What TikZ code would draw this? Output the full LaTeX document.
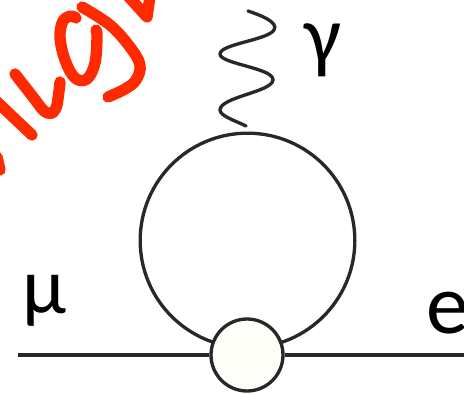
\documentclass[tikz,border=0pt]{standalone}
\usepackage{fontspec}
\setmainfont{Carlito}
\definecolor{inkred}{RGB}{255,42,0}
\definecolor{inkdark}{RGB}{40,40,40}
\definecolor{blobfill}{RGB}{254,254,248}
\pgfdeclarelayer{under}
\pgfsetlayers{under,main}
\tikzset{
  x=0.75pt,y=-0.75pt,
  redstroke/.style={draw=inkred,line width=8.5pt,line cap=round,line join=round},
  fermion/.style={draw=inkdark,line width=2.5pt},
  wave/.style={draw=inkdark,line width=2.5pt,line cap=round},
  lbl/.style={inner sep=0pt,font=\fontsize{60}{60}\selectfont,text=black}
}
\begin{document}
\begin{tikzpicture}
\useasboundingbox (0,0) rectangle (464,393);
\begin{scope}
\clip (0,0) rectangle (464,393);
\draw[redstroke] plot[smooth,tension=0.6] coordinates {(76,18) (71,16) (63,21) (60,37) (65,60) (75,78) (87,79) (95,63) (97,37) (96,30)};
\draw[redstroke] plot[smooth,tension=0.6] coordinates {(82,7) (110,25) (130,47) (140,65) (136,80) (125,89) (108,97)};
\draw[redstroke] plot[smooth,tension=0.5] coordinates {(15,74) (33,97) (44,111) (52,113) (57,105) (60,82)};
\draw[redstroke] (-5,100) -- (32,135);
\draw[redstroke] (-3,157) -- (0,170);
\draw[redstroke] (128,-4) -- (147,17) -- (150,-4);
\end{scope}
\node[circle,draw=inkdark,line width=2.5pt,fill=blobfill,minimum size=54pt,inner sep=0pt] (blob) at (247,355) {};
\coordinate (muend) at (18,355);
\coordinate (eend) at (464,355);
\begin{pgfonlayer}{under}
\node[circle,draw=inkdark,line width=2.5pt,minimum size=161pt,inner sep=0pt] (loop) at (247.5,240.5) {};
\draw[fermion] (muend) -- (blob);
\draw[fermion] (blob) -- (eend);
\end{pgfonlayer}
\coordinate (w0) at (248,11);
\coordinate (w5) at (246,126);
\draw[wave] (w0) .. controls (260,15) and (279,22) .. (274,30)
  .. controls (268,40) and (220,44) .. (220,54)
  .. controls (220,64) and (274,68) .. (273,80)
  .. controls (272,92) and (220,97) .. (220,110)
  .. controls (220,116) and (236,121) .. (w5);
\node[lbl,anchor=base,font=\fontsize{62}{62}\selectfont] (gamma) at (323,63) {γ};
\node[lbl,anchor=base] (mu) at (44,313) {μ};
\node[lbl,anchor=base west,font=\fontsize{64}{64}\selectfont] (elec) at (426,333) {e};
\end{tikzpicture}
\end{document}
